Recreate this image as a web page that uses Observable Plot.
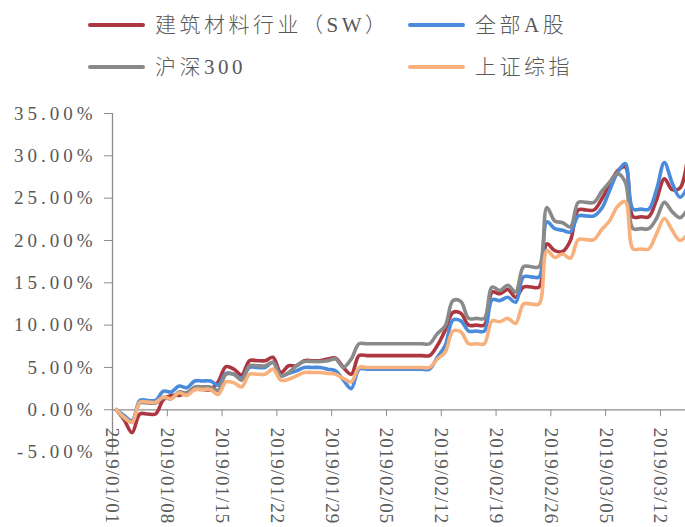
<!DOCTYPE html>
<html><head><meta charset="utf-8">
<script src="https://cdn.jsdelivr.net/npm/d3@7"></script>
<script src="https://cdn.jsdelivr.net/npm/@observablehq/plot@0.6"></script>
<style>
html,body{margin:0;padding:0;background:#fff;width:685px;height:527px;overflow:hidden;}
#legend{position:relative;width:685px;height:95px;font-family:"Liberation Serif","Noto Sans CJK SC",serif;color:#595959;font-size:21px;}
.sw{position:absolute;width:57px;height:4px;border-radius:2px;}
.lt{position:absolute;line-height:22px;letter-spacing:3.5px;white-space:nowrap;font-weight:300;}
#chart svg g[aria-label="y-axis tick label"] text{letter-spacing:4px;}
#chart svg g[aria-label="x-axis tick label"] text{letter-spacing:1px;}
</style></head><body>
<div id="legend"></div><div id="chart"></div>
<script>
// ---- data, one value per calendar day from 2019/01/01 ----
const seriesNames = ["建筑材料行业（SW）", "全部A股", "沪深300", "上证综指"];
const seriesColors = ["#AD3740", "#4A8BDB", "#8A8A8A", "#F8B07C"];
const firstDay = "2019-01-01";
const lastDay = "2019-03-15";

const jianzhu = [
  0, -1.2, -2.7, -0.5, -0.5, -0.5,
  1.2, 1.7, 1.7, 2.0, 2.4, 2.4, 2.4,
  3.3, 5.1, 4.8, 4.1, 5.8, 5.8, 5.8,
  6.2, 4.4, 5.2, 5.2, 5.8, 5.8, 5.8,
  6.0, 6.1, 5.0, 4.2, 6.4, 6.4, 6.4,
  6.4, 6.4, 6.4, 6.4, 6.4, 6.4, 6.4,
  7.6, 9.4, 11.5, 11.4, 10.0, 10.0, 10.0,
  13.9, 13.7, 14.2, 13.3, 14.5, 14.5, 14.5,
  19.6, 18.8, 18.7, 20.0, 23.6, 23.6, 23.6,
  24.9, 26.6, 28.2, 28.7, 22.8, 22.8, 22.8,
  24.8, 27.3, 26.0, 26.2, 30.0
];
const quanA = [
  0, -0.7, -1.3, 1.1, 1.1, 1.1,
  2.2, 2.1, 2.8, 2.6, 3.4, 3.4, 3.4,
  2.9, 4.3, 4.2, 3.7, 5.0, 5.0, 5.0,
  5.6, 4.0, 4.3, 4.6, 5.0, 5.0, 5.0,
  4.8, 4.6, 3.5, 2.5, 4.8, 4.8, 4.8,
  4.8, 4.8, 4.8, 4.8, 4.8, 4.8, 4.8,
  6.2, 7.6, 10.6, 10.5, 9.3, 9.3, 9.3,
  13.0, 12.9, 13.3, 12.7, 15.7, 15.7, 15.7,
  22.2, 21.4, 21.2, 21.0, 22.9, 22.9, 22.9,
  23.8, 25.9, 28.0, 29.1, 23.7, 23.7, 23.7,
  26.0, 29.2, 26.8, 25.1, 26.4
];
const hs300 = [
  0, -1.0, -1.4, 0.8, 0.8, 0.8,
  1.4, 1.3, 2.1, 2.0, 2.7, 2.7, 2.7,
  2.3, 4.2, 4.2, 3.5, 5.2, 5.2, 5.2,
  5.6, 4.0, 4.4, 5.2, 5.7, 5.7, 5.7,
  5.8, 6.0, 5.0, 6.0, 7.8, 7.8, 7.8,
  7.8, 7.8, 7.8, 7.8, 7.8, 7.8, 7.8,
  9.0, 9.9, 12.9, 12.8, 10.8, 10.8, 10.8,
  14.5, 14.1, 14.7, 13.9, 16.9, 16.9, 16.9,
  23.9, 22.3, 22.1, 21.6, 24.5, 24.5, 24.5,
  25.8, 26.9, 27.9, 26.9, 21.4, 21.4, 21.4,
  22.6, 24.5, 23.4, 22.7, 23.8
];
const shangzheng = [
  0, -0.9, -1.5, 0.9, 0.9, 0.9,
  1.5, 1.3, 2.0, 1.7, 2.4, 2.4, 2.4,
  1.8, 3.3, 3.2, 2.7, 4.2, 4.2, 4.2,
  4.8, 3.5, 3.6, 4.0, 4.4, 4.4, 4.4,
  4.3, 4.2, 3.7, 3.3, 5.0, 5.0, 5.0,
  5.0, 5.0, 5.0, 5.0, 5.0, 5.0, 5.0,
  6.0, 6.8, 9.3, 9.2, 7.8, 7.8, 7.8,
  10.5, 10.4, 10.8, 10.2, 12.5, 12.5, 12.5,
  18.8, 18.0, 18.4, 17.9, 20.1, 20.1, 20.1,
  21.3, 22.3, 24.0, 24.6, 19.0, 19.0, 19.0,
  20.8, 22.6, 21.2, 20.0, 20.8
];
const seriesValues = [jianzhu, quanA, hs300, shangzheng];
const yTicks = [-5, 0, 5, 10, 15, 20, 25, 30, 35];
const xTickLabels = ["2019/01/01", "2019/01/08", "2019/01/15", "2019/01/22", "2019/01/29",
  "2019/02/05", "2019/02/12", "2019/02/19", "2019/02/26", "2019/03/05", "2019/03/12"];

// ---- legend (HTML, above the SVG) ----
const legendSlots = [[88, 25], [408, 25], [88, 67], [408, 67]];
const legend = document.getElementById("legend");
seriesNames.forEach((name, i) => {
  const [lx, ly] = legendSlots[i];
  const sw = document.createElement("div");
  sw.className = "sw";
  sw.style.left = lx + "px"; sw.style.top = (ly - 2) + "px"; sw.style.background = seriesColors[i];
  legend.appendChild(sw);
  const t = document.createElement("div");
  t.className = "lt";
  t.style.left = (lx + 67) + "px"; t.style.top = (ly - 11) + "px";
  t.textContent = name;
  legend.appendChild(t);
});

// ---- chart ----
const parseDay = d3.utcParse("%Y-%m-%d");
const parseTick = d3.utcParse("%Y/%m/%d");
const days = d3.utcDay.range(parseDay(firstDay), d3.utcDay.offset(parseDay(lastDay), 1));
// Excel date axis "between tick marks": each day's point sits in the middle of its day
const rows = [];
seriesValues.forEach((vals, s) => {
  vals.forEach((v, i) => rows.push({series: seriesNames[s], date: d3.utcHour.offset(days[i], 12), value: v}));
});

const W = 685, H = 432, mT = 18, mB = 75.4, mL = 112, mR = 0;
const yMin = -5, yMax = 35;
const xEnd = new Date(parseDay(firstDay).getTime() + 73.2 * 864e5);
const zeroOffset = (H - mT - mB) * (0 - yMin) / (yMax - yMin);
const axisColor = "#8C8C8C", textColor = "#595959";

const lineMarks = seriesNames.map((name, s) =>
  Plot.lineY(rows.filter(r => r.series === name), {
    x: "date", y: "value", stroke: seriesColors[s], strokeWidth: 3.6,
    curve: "catmull-rom", clip: true
  }));

const chart = Plot.plot({
  width: W, height: H,
  marginTop: mT, marginBottom: mB, marginLeft: mL, marginRight: mR,
  style: {fontFamily: "'Liberation Serif', 'Times New Roman', serif", fontSize: "19px", background: "#fff"},
  x: {type: "utc", domain: [parseDay(firstDay), xEnd]},
  y: {domain: [yMin, yMax]},
  marks: [
    Plot.ruleY([0], {stroke: axisColor, strokeWidth: 1.3}),
    Plot.ruleX([parseDay(firstDay)], {y1: yMin, y2: yMax, stroke: axisColor, strokeWidth: 1.3}),
    Plot.axisY(yTicks, {tickFormat: d => d.toFixed(2) + "%", tickSize: 8, tickPadding: 8,
      stroke: axisColor, fill: textColor, label: null, fontSize: 19}),
    Plot.axisX(xTickLabels.map(parseTick), {tickFormat: d3.utcFormat("%Y/%m/%d"), tickSize: 7, tickPadding: 11,
      tickRotate: 90, dy: -zeroOffset, stroke: axisColor, fill: textColor, label: null, fontSize: 19}),
    ...lineMarks
  ]
});
document.getElementById("chart").appendChild(chart);
</script>
</body></html>
